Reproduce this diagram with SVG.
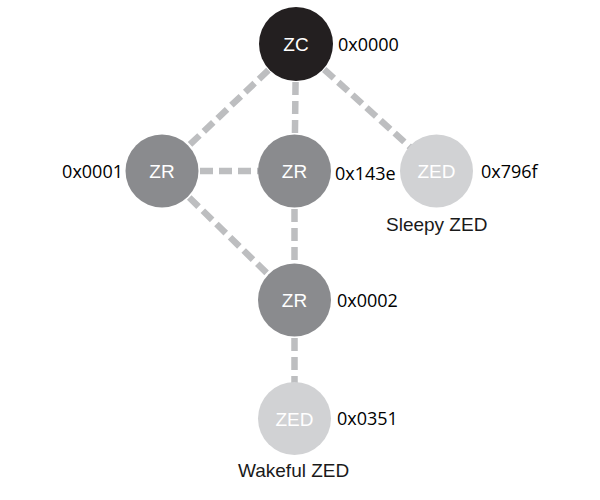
<svg xmlns="http://www.w3.org/2000/svg" width="600" height="500" viewBox="0 0 600 500">
<style>
.link{stroke:#bdbec0;stroke-width:6.5;stroke-dasharray:13 6;fill:none}
.zc{fill:#231f20}
.zr{fill:#8a8b8e}
.zed{fill:#d1d2d4}
.in{font-family:"Liberation Sans",Arial,sans-serif;font-size:19px;fill:#ffffff;text-anchor:middle}
.hex{font-family:"Open Sans","Noto Sans",sans-serif;font-size:18px;fill:#000000}
.cap{font-family:"Liberation Sans",Arial,sans-serif;font-size:19px;fill:#1a1a1a}
</style>
<rect width="600" height="500" fill="#ffffff"/>
<g id="connectors">
<line class="link" x1="296" y1="44" x2="162" y2="171"/>
<line class="link" x1="296" y1="44" x2="294.5" y2="171"/>
<line class="link" x1="296" y1="44" x2="436.5" y2="171"/>
<line class="link" x1="162" y1="171" x2="294.5" y2="171"/>
<line class="link" x1="162" y1="171" x2="294.5" y2="300"/>
<line class="link" x1="294.5" y1="171" x2="294.5" y2="300"/>
<line class="link" x1="294.5" y1="300" x2="294.5" y2="418.5"/>
</g>
<g id="zc">
<circle class="zc" cx="296" cy="44" r="37"/>
<text class="in" x="296" y="51">ZC</text>
<text class="hex" x="338" y="51">0x0000</text>
</g>
<g id="zr1">
<circle class="zr" cx="162" cy="171" r="36.5"/>
<text class="in" x="162" y="178">ZR</text>
<text class="hex" x="123" y="178" text-anchor="end">0x0001</text>
</g>
<g id="zr2">
<circle class="zr" cx="294.5" cy="171" r="36.5"/>
<text class="in" x="294.5" y="178">ZR</text>
<text class="hex" x="335" y="180">0x143e</text>
</g>
<g id="zed1">
<circle class="zed" cx="436.5" cy="171" r="36.5"/>
<text class="in" x="436.5" y="178">ZED</text>
<text class="hex" x="481" y="178">0x796f</text>
<text class="cap" x="386" y="231">Sleepy ZED</text>
</g>
<g id="zr3">
<circle class="zr" cx="294.5" cy="300" r="36.5"/>
<text class="in" x="294.5" y="307">ZR</text>
<text class="hex" x="337" y="307">0x0002</text>
</g>
<g id="zed2">
<circle class="zed" cx="294.5" cy="418.5" r="36.5"/>
<text class="in" x="294.5" y="425.5">ZED</text>
<text class="hex" x="337" y="425">0x0351</text>
<text class="cap" x="238" y="477">Wakeful ZED</text>
</g>
</svg>
